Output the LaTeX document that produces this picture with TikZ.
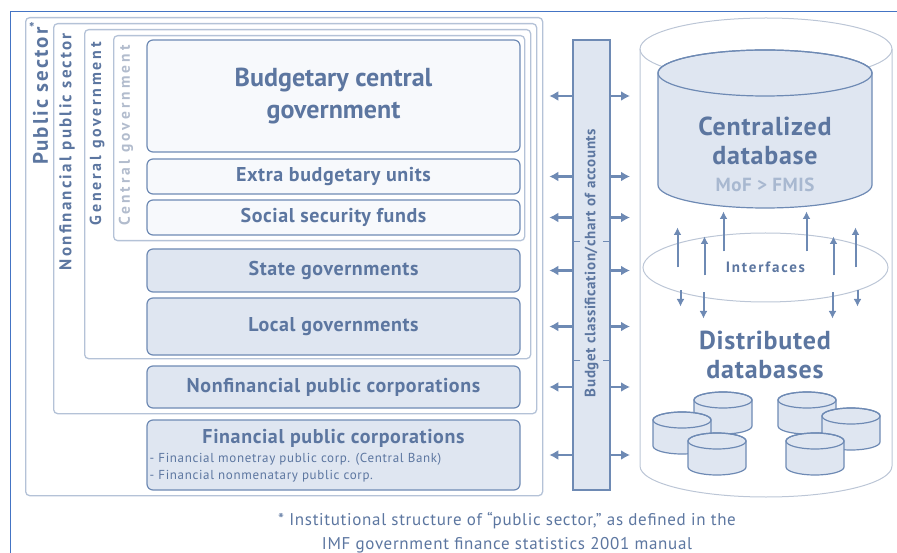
\documentclass[tikz,border=0pt]{standalone}
\usepackage{fontspec}
\setmainfont{PT Sans}
\usetikzlibrary{positioning,arrows.meta,shapes.geometric}

\definecolor{inkblue}{RGB}{92,118,160}
\definecolor{edgeblue}{RGB}{110,138,180}
\definecolor{unitfill}{RGB}{223,230,241}
\definecolor{unitwhite}{RGB}{247,249,252}
\definecolor{tabline}{RGB}{180,194,215}
\definecolor{pageblue}{RGB}{68,116,196}
\definecolor{fadedink}{RGB}{178,188,205}
\definecolor{mofink}{RGB}{168,184,208}
\definecolor{cylline}{RGB}{188,198,214}

\begin{document}
\begin{tikzpicture}[x=1pt,y=-1pt,
    every node/.style={text=inkblue},
    sector/.style={draw=tabline,line width=1.3pt,rounded corners=4pt,anchor=north west,inner sep=0pt},
    seclabel/.style={rotate=90,anchor=east,inner sep=0pt},
    unit/.style={draw=edgeblue,line width=1.2pt,rounded corners=6pt,fill=unitfill,minimum width=373pt,
                 inner sep=0pt,font=\fontsize{20}{22}\selectfont\bfseries\addfontfeature{LetterSpace=3}},
    topunit/.style={unit,fill=unitwhite},
    flow/.style={draw=edgeblue,line width=2.6pt,-{Latex[length=9pt,width=10pt]}},
    link/.style={draw=edgeblue,line width=2pt,-{Latex[length=7.5pt,width=8pt]}},
    dbtext/.style={align=center,inner sep=0pt,
                   font=\fontsize{26}{29.5}\selectfont\bfseries\addfontfeature{LetterSpace=3}}]
\tikzset{disk/.pic={
    \filldraw[draw=edgeblue,fill=unitfill,line width=1.2pt] (-29,0) -- (-29,26)
        arc[start angle=180,end angle=360,x radius=29pt,y radius=8pt] -- (29,0)
        arc[start angle=0,end angle=180,x radius=29pt,y radius=8pt] -- cycle;
    \draw[edgeblue,line width=1.2pt] (0,0) ellipse[x radius=29pt,y radius=8pt];}}
\useasboundingbox (0,0) rectangle (897,553);
\draw[pageblue,line width=1pt] (10,553) -- (10,12) -- (897,12);

% nested sectors
\node[sector,minimum width=517pt,minimum height=478pt] (psec) at (25,17) {};
\node[sector,minimum width=483pt,minimum height=390pt] (nfps) at (53,23) {};
\node[sector,minimum width=446pt,minimum height=329pt] (ggov) at (84,29) {};
\node[sector,minimum width=411pt,minimum height=205pt] (cgov) at (113,35) {};
\node[seclabel,font=\fontsize{21}{21}\selectfont\bfseries\addfontfeature{LetterSpace=10}]
    at ([xshift=14pt,yshift=-4pt]psec.north west) {Public sector\textsuperscript{*}};
\node[seclabel,font=\fontsize{17}{17}\selectfont\bfseries\addfontfeature{LetterSpace=13}]
    at ([xshift=14pt,yshift=-10pt]nfps.north west) {Nonfinancial public sector};
\node[seclabel,font=\fontsize{16}{16}\selectfont\bfseries\addfontfeature{LetterSpace=17}]
    at ([xshift=13pt,yshift=-13pt]ggov.north west) {General government};
\node[seclabel,text=fadedink,font=\fontsize{15.5}{15.5}\selectfont\bfseries\addfontfeature{LetterSpace=20}]
    at ([xshift=13pt,yshift=-10pt]cgov.north west) {Central government};

% units
\node[topunit,minimum height=112pt,align=center,font=\fontsize{26}{32}\selectfont\bfseries]
    (bcg) at (333.5,96) {Budgetary central\\government};
\node[topunit,minimum height=35pt] (ebu) at (333.5,176.5) {Extra budgetary units};
\node[topunit,minimum height=35pt] (ssf) at (333.5,217.5) {Social security funds};
\node[unit,minimum height=43pt] (sgov) at (333.5,270.5) {State governments};
\node[unit,minimum height=57pt] (lgov) at (333.5,326.5) {Local governments};
\node[unit,minimum height=42pt] (nfpc) at (333.5,387) {Nonfinancial public corporations};
\node[unit,minimum height=70pt] (fpc) at (333.5,455) {};
\node[below=10pt of fpc.north,inner sep=0pt,
      font=\fontsize{20}{22}\selectfont\bfseries\addfontfeature{LetterSpace=3}]
    (fpct) {Financial public corporations};
\node[anchor=north west,xshift=3pt,yshift=-5pt,inner sep=0pt,align=left,
      font=\fontsize{13}{17}\selectfont\addfontfeature{LetterSpace=5}] (fpcb) at (fpct.south -| fpc.west)
    {- Financial monetray public corp. (Central Bank)\\- Financial nonmenatary public corp.};

% classification bar
\node[draw=edgeblue,fill=unitfill,line width=1.4pt,minimum width=37pt,minimum height=450pt,
      inner sep=0pt] (bcoa) at (591.5,265) {};
\node[rotate=90,font=\fontsize{15}{15}\selectfont\bfseries\addfontfeature{LetterSpace=4}]
    at ([yshift=2pt]bcoa.center) {Budget classification/chart of accounts};
\foreach \y in {242,360}
    \draw[edgeblue,line width=1pt] (573,\y) -- (580,\y) (603,\y) -- (610,\y);

% databases
\coordinate (dsys) at (640,265);
\draw[cylline,line width=1pt] (640,49) -- (640,466)
    arc[start angle=180,end angle=360,x radius=126pt,y radius=31pt] -- (892,49);
\draw[cylline,line width=1pt] (766,49) ellipse[x radius=126pt,y radius=31pt];
\filldraw[draw=edgeblue,fill=unitfill,line width=1.2pt] (658,73) -- (658,185)
    arc[start angle=180,end angle=360,x radius=107pt,y radius=23pt] -- (872,73)
    arc[start angle=0,end angle=180,x radius=107pt,y radius=23pt] -- cycle;
\draw[edgeblue,line width=1.2pt] (765,73) ellipse[x radius=107pt,y radius=23pt];
\node[dbtext] (cdbt) at (765,141) {Centralized\\database};
\node[below=12pt of cdbt,inner sep=0pt,text=mofink,
      font=\fontsize{19}{19}\selectfont\bfseries\addfontfeature{LetterSpace=3}] (mof) {MoF > FMIS};
\node[ellipse,draw=cylline,line width=1pt,minimum width=245pt,minimum height=69pt,
      font=\fontsize{15}{15}\selectfont\bfseries\addfontfeature{LetterSpace=12}]
    (intf) at (765.5,267.5) {Interfaces};
\foreach \dx/\a/\b in {-88/0/-40,-61/8/-31,-42/-16/-56,41/-16/-56,68/8/-31,90/0/-40}
    \draw[link] ([shift={(\dx,\a)}]intf.center) -- ([shift={(\dx,\b)}]intf.center);
\foreach \dx/\a/\b in {-85/23/39,-62/25/51,67/25/51,92/23/39}
    \draw[link] ([shift={(\dx,\a)}]intf.center) -- ([shift={(\dx,\b)}]intf.center);
\node[dbtext] (ddbt) at (765,355) {Distributed\\databases};
\foreach \px/\py in {723/400,682/420,717/441,807/400,851/416,815/441}
    \pic at (\px,\py) {disk};

% links to the bar
\foreach \u in {bcg,ebu,ssf,sgov,lgov,nfpc,fpc}{
    \draw[flow,shorten >=6pt] (bcoa.west |- \u.east) -- (psec.east |- \u.east);
    \draw[flow,shorten >=10pt] (bcoa.east |- \u.east) -- (dsys |- \u.east);
}

\node[align=center,font=\fontsize{17}{24}\selectfont\addfontfeature{LetterSpace=4}] (note) at (507,533)
    {* Institutional structure of ``public sector,'' as defined in the\\
     IMF government finance statistics 2001 manual};
\end{tikzpicture}
\end{document}
